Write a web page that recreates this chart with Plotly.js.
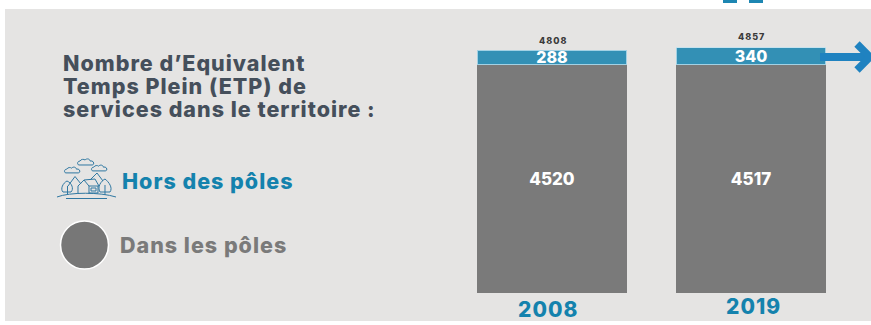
<!DOCTYPE html>
<html><head><meta charset="utf-8">
<script src="https://cdn.plot.ly/plotly-3.0.1.min.js"></script>
<style>html,body{margin:0;padding:0;background:#fff}#c{width:871px;height:325px}
.annotation-text{letter-spacing:1px}</style>
</head><body><div id="c"></div>
<script>
const W = 871, H = 325;
const years = ["2008", "2019"];
const dansPoles = [4520, 4517];
const horsPoles = [288, 340];
const totals = [4808, 4857];
const titleLines = ["Nombre d’Equivalent", "Temps Plein (ETP) de", "services dans le territoire :"];
const legendHors = "Hors des pôles";
const legendDans = "Dans les pôles";

const FONT = 'Inter, "Open Sans", sans-serif';
const px = x => x / W, py = y => 1 - y / H;
const P = s => s.replace(/(-?[\d.]+)[ ,](-?[\d.]+)/g, (m, a, b) => px(+a).toFixed(5) + ',' + py(+b).toFixed(5));
const pathShape = (d, color, w, fill, layer) => ({type:'path', xref:'paper', yref:'paper', path:P(d),
  line:{color:color, width:w}, fillcolor:fill || 'rgba(0,0,0,0)', layer:layer || 'above'});
const rect = (x0,y0,x1,y1,c,layer) => ({type:'rect', xref:'paper', yref:'paper', x0:px(x0), x1:px(x1), y0:py(y0), y1:py(y1),
  fillcolor:c, line:{width:0}, layer:layer || 'above'});
const txt = (s,x,y,size,color,anchor) => ({text:s, xref:'paper', yref:'paper', x:px(x), y:py(y), showarrow:false,
  xanchor:anchor||'left', yanchor:'middle', font:{family:FONT, size:size, color:color, weight:800}});

const ic = '#3078a2';
const cloud = (x,y,s) => `M${x-7*s} ${y+2*s} C${x-9*s} ${y+2*s} ${x-9*s} ${y-2*s} ${x-6*s} ${y-2*s} C${x-5*s} ${y-4*s} ${x-2*s} ${y-4*s} ${x-1*s} ${y-3*s} C${x+1*s} ${y-5*s} ${x+4*s} ${y-4*s} ${x+4*s} ${y-2*s} C${x+8*s} ${y-3*s} ${x+9*s} ${y+2*s} ${x+6*s} ${y+2*s} Z`;
const icon = [
  cloud(86,163,1), cloud(72.5,171,.95), cloud(99.5,169,.95),
  'M57 197 C70 192 100 192 116 197',
  'M66 198.5 L107 198.5',
  'M68 186 L75 176.5 L81 184',
  'M90 180 L97 173 L103 181',
  'M63 192 C60 189 63 183 67 181 C72 183 74 189 71 192 Z',
  'M67.5 186 L67.5 195',
  'M100 192 C97 187 101 181 105 179 C109 182 113 188 110 192 Z',
  'M105 185 L105 195',
  'M78 194 L78 186 L84 180 L89 186 L89 194',
  'M84 180 L95 179 L99 186 L89 186',
  'M89 193 L98 193 L98 186',
  'M91 188 L96 188 L96 191 L91 191 Z'
].map(d => pathShape(d, ic, 1));

const shapes = [
  rect(5, 9, 871, 321, '#e5e4e3', 'below'),
  rect(723, 0, 737, 3, '#1d86b2'),
  rect(749, 0, 763, 3, '#1d86b2'),
  {type:'circle', xref:'paper', yref:'paper', x0:px(60.5), x1:px(108.5), y0:py(269), y1:py(221),
    fillcolor:'#777777', line:{color:'#ffffff', width:1.5}, layer:'above'},
  pathShape('M820 57 L868 57', '#1f82c0', 8),
  pathShape('M857 44 L870 57 L857 70', '#1f82c0', 7.5),
  ...icon
];

const annotations = [
  txt(titleLines[0], 61, 63, 21.5, '#454f5b'),
  txt(titleLines[1], 61, 86, 21.5, '#454f5b'),
  txt(titleLines[2], 61, 109, 21.5, '#454f5b'),
  txt(legendHors, 120, 181, 21.5, '#1482ad'),
  txt(legendDans, 118, 245, 21.5, '#7a7a7a'),
  txt(String(totals[0]), 552.5, 40, 9, '#3a3a3a', 'center'),
  txt(String(totals[1]), 751.5, 37, 9, '#3a3a3a', 'center'),
  txt(years[0], 547.5, 309.5, 21, '#1482ad', 'center'),
  txt(years[1], 753, 306.5, 21, '#1482ad', 'center')
];

const barBase = {type:'bar', x:years, width:0.749, textposition:'inside', insidetextanchor:'middle',
  textangle:0, constraintext:'none', cliponaxis:false, hoverinfo:'skip'};
const traces = [
  Object.assign({}, barBase, {name:legendDans, y:dansPoles, text:dansPoles.map(String),
    marker:{color:'#7a7a7a', line:{width:0}}, textfont:{family:FONT, size:17, color:'#ffffff', weight:800}}),
  Object.assign({}, barBase, {name:legendHors, y:horsPoles, text:horsPoles.map(String),
    marker:{color:'#3390b5', line:{width:1, color:'rgba(190,225,240,0.8)'}}, textfont:{family:FONT, size:16, color:'#ffffff', weight:800}})
];

Plotly.newPlot('c', traces, {
  width:W, height:H, barmode:'stack', showlegend:false,
  margin:{l:0,r:0,t:0,b:0,pad:0},
  paper_bgcolor:'#ffffff', plot_bgcolor:'rgba(0,0,0,0)',
  xaxis:{type:'category', domain:[452.5/W, 850.5/W], range:[-0.5,1.5], showticklabels:false, showgrid:false, zeroline:false, ticks:''},
  yaxis:{domain:[1-293/H, 1-9/H], range:[0,5620], showticklabels:false, showgrid:false, zeroline:false, ticks:''},
  shapes, annotations
}, {staticPlot:true, displayModeBar:false});
</script></body></html>
